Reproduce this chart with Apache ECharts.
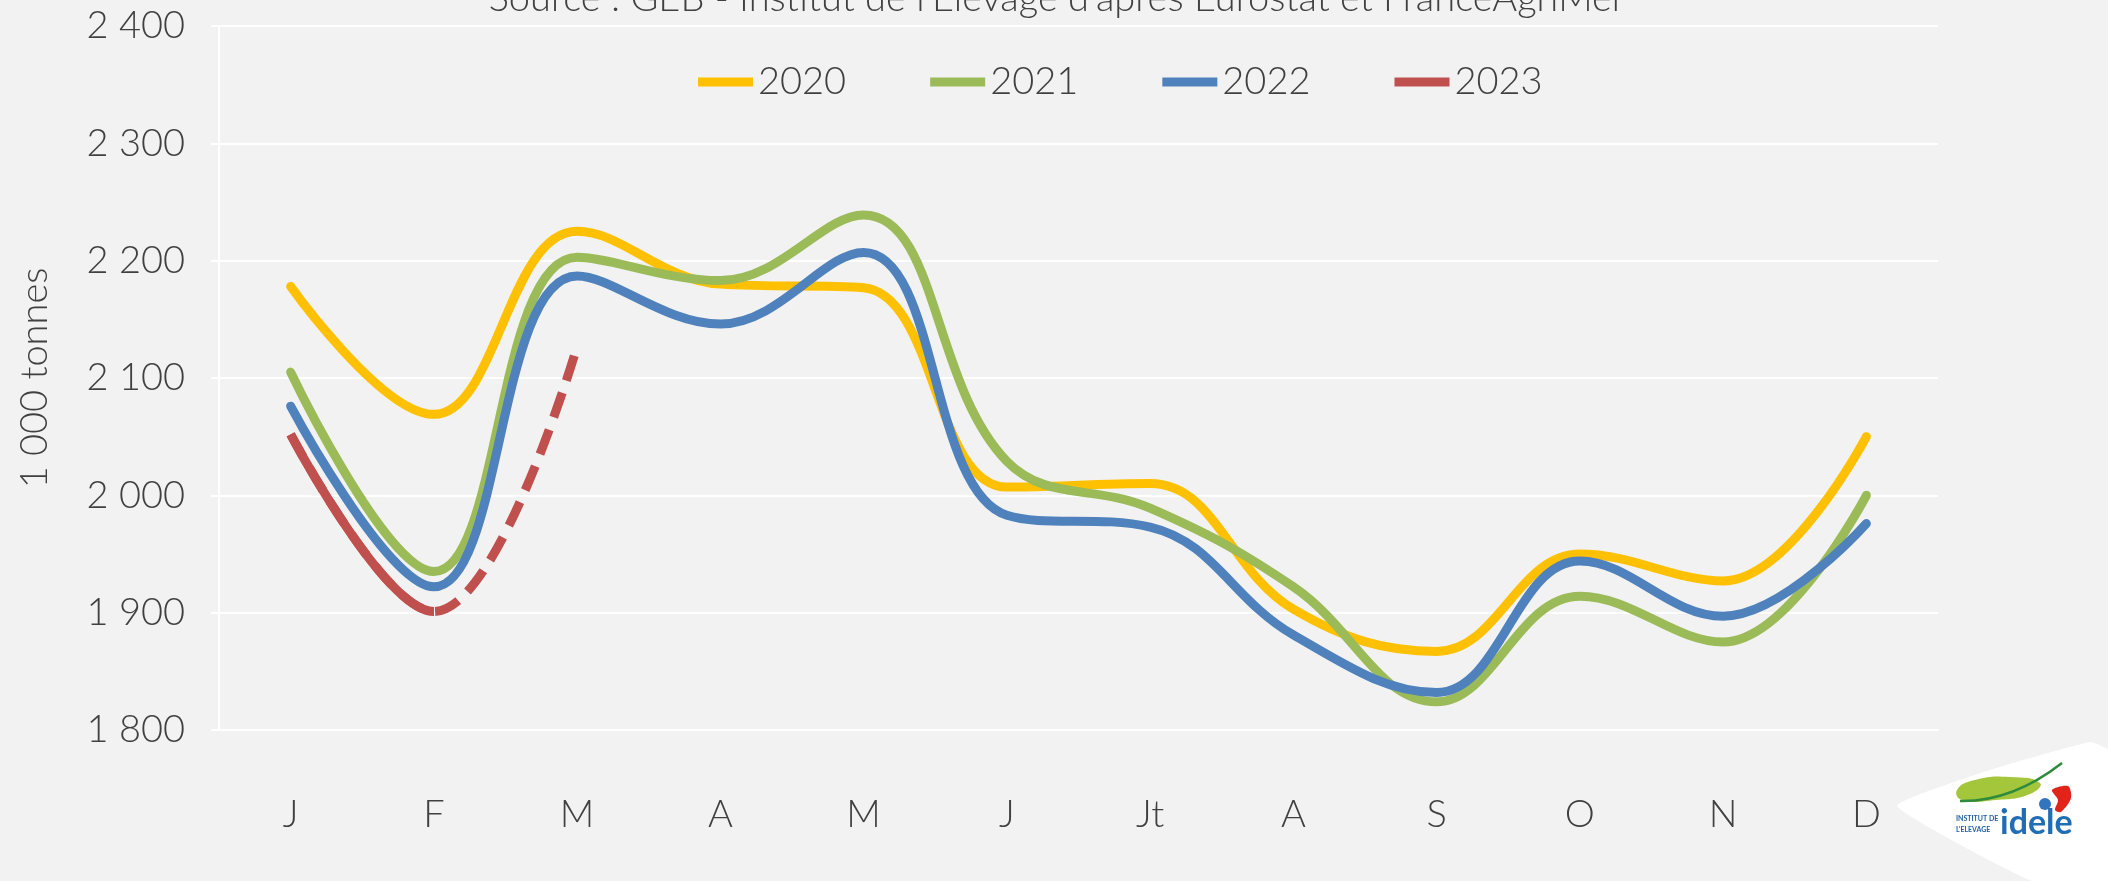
<!DOCTYPE html>
<html>
<head>
<meta charset="utf-8">
<title>Collecte de lait</title>
<script src="https://cdn.jsdelivr.net/npm/echarts@6/dist/echarts.min.js"></script>
<style>
  html, body { margin: 0; padding: 0; background: #f2f2f2; }
  #chart { width: 2108px; height: 881px; }
</style>
</head>
<body>
<div id="chart"></div>
<script>
// mois (axe x)
const months = ['J', 'F', 'M', 'A', 'M', 'J', 'Jt', 'A', 'S', 'O', 'N', 'D'];
// 1 000 tonnes
const y2020 = [2178, 2069, 2225, 2180, 2177, 2007, 2010, 1903, 1867, 1950, 1927, 2050];
const y2021 = [2105, 1935, 2203, 2183, 2239, 2029, 1989, 1922, 1824, 1914, 1875, 2000];
const y2022 = [2076, 1922, 2187, 2146, 2207, 1983, 1973, 1881, 1832, 1944, 1897, 1976];
const y2023 = [2052, 1901, 2127];
const yTicks = [1800, 2400, 100]; // min, max, pas

const FONT = 'Lato, "Open Sans", sans-serif';
const TXT = '#404040';
const RED = '#C0504D';
const fmt = (v) => String(v).replace(/\B(?=(\d{3})+(?!\d))/g, ' ');

const chart = echarts.init(document.getElementById('chart'));

const lineSeries = (name, data, color) => ({
  name: name,
  type: 'line',
  data: data,
  smooth: 0.4,
  symbol: 'none',
  color: color,
  lineStyle: { width: 9, color: color, cap: 'round' }
});

// 2023 : trait plein jusqu'a F, puis pointilles (provisoire)
// le degrade coupe le trait plein pile au milieu (F)
const redSolid = new echarts.graphic.LinearGradient(0, 0, 1, 0, [
  { offset: 0, color: RED },
  { offset: 0.5, color: RED },
  { offset: 0.5, color: 'rgba(192,80,77,0)' },
  { offset: 1, color: 'rgba(192,80,77,0)' }
]);

const txt = { fontSize: 38, color: TXT, fontFamily: FONT, fontWeight: 300 };

const option = {
  backgroundColor: '#f2f2f2',
  textStyle: { fontFamily: FONT },
  animation: false,
  grid: { left: 219, right: 170, top: 26, bottom: 151 },
  legend: {
    data: ['2020', '2021', '2022', { name: '2023', itemStyle: { color: RED } }],
    left: 698,
    top: 63,
    padding: 0,
    icon: 'rect',
    itemWidth: 55,
    itemHeight: 9,
    itemGap: 84,
    textStyle: txt
  },
  xAxis: {
    type: 'category',
    data: months,
    axisLine: { lineStyle: { color: '#ffffff', width: 2 } },
    axisTick: { length: 10, lineStyle: { color: '#ffffff', width: 2 } },
    axisLabel: Object.assign({ margin: 66 }, txt)
  },
  yAxis: {
    type: 'value',
    min: yTicks[0],
    max: yTicks[1],
    interval: yTicks[2],
    name: '1 000 tonnes',
    nameLocation: 'middle',
    nameGap: 165,
    nameTextStyle: txt,
    axisLine: { show: true, lineStyle: { color: '#ffffff', width: 2 } },
    axisTick: { show: true, length: 8, lineStyle: { color: '#ffffff', width: 2 } },
    splitLine: { lineStyle: { color: '#ffffff', width: 2 } },
    axisLabel: Object.assign({ margin: 34, formatter: fmt }, txt)
  },
  series: [
    lineSeries('2020', y2020, '#FFC000'),
    lineSeries('2021', y2021, '#9BBB59'),
    lineSeries('2022', y2022, '#4F81BD'),
    Object.assign(lineSeries('2023', y2023, RED), {
      lineStyle: { width: 9, color: RED, type: [26, 13], cap: 'butt' }
    }),
    Object.assign(lineSeries('2023', y2023, RED), {
      lineStyle: { width: 9, color: redSolid, cap: 'butt' }
    })
  ],
  graphic: [
    {
      type: 'text',
      x: 1057,
      y: 18,
      style: {
        text: "Source : GEB - Institut de l'Elevage d'après Eurostat et FranceAgriMer",
        font: '300 38px ' + FONT,
        fill: TXT,
        textAlign: 'center',
        textVerticalAlign: 'bottom'
      }
    },
    // logo idele
    {
      type: 'polygon',
      shape: {
        points: [[1897, 806], [1990, 770], [2090, 742], [2108, 750], [2108, 881], [2032, 881]],
        smooth: 0.12
      },
      style: { fill: '#ffffff' }
    },
    {
      type: 'polygon',
      shape: {
        points: [[1957, 790], [1975, 780], [2010, 777], [2040, 783], [2030, 794], [1996, 800], [1962, 800]],
        smooth: 0.5
      },
      style: { fill: '#a3c63b' }
    },
    {
      type: 'bezierCurve',
      shape: { x1: 1960, y1: 801, x2: 2062, y2: 763, cpx1: 2012, cpy1: 802 },
      style: { stroke: '#2e8b3c', lineWidth: 2.5, fill: null }
    },
    {
      type: 'polygon',
      shape: { points: [[2052, 790], [2068, 786], [2071, 798], [2061, 812], [2055, 810], [2058, 800]], smooth: 0.3 },
      style: { fill: '#e2231a' }
    },
    {
      type: 'circle',
      shape: { cx: 2045, cy: 804, r: 6 },
      style: { fill: '#2f76bf' }
    },
    {
      type: 'text',
      x: 1956, y: 815,
      style: { text: 'INSTITUT DE', font: 'bold 7px ' + FONT, fill: '#1f5fa8' }
    },
    {
      type: 'text',
      x: 1956, y: 826,
      style: { text: "L'ELEVAGE", font: 'bold 7px ' + FONT, fill: '#1f5fa8' }
    },
    {
      type: 'text',
      x: 2000, y: 806,
      style: { text: 'idele', font: 'bold 34px ' + FONT, fill: '#1f6db5' }
    }
  ]
};

chart.setOption(option);
</script>
</body>
</html>
